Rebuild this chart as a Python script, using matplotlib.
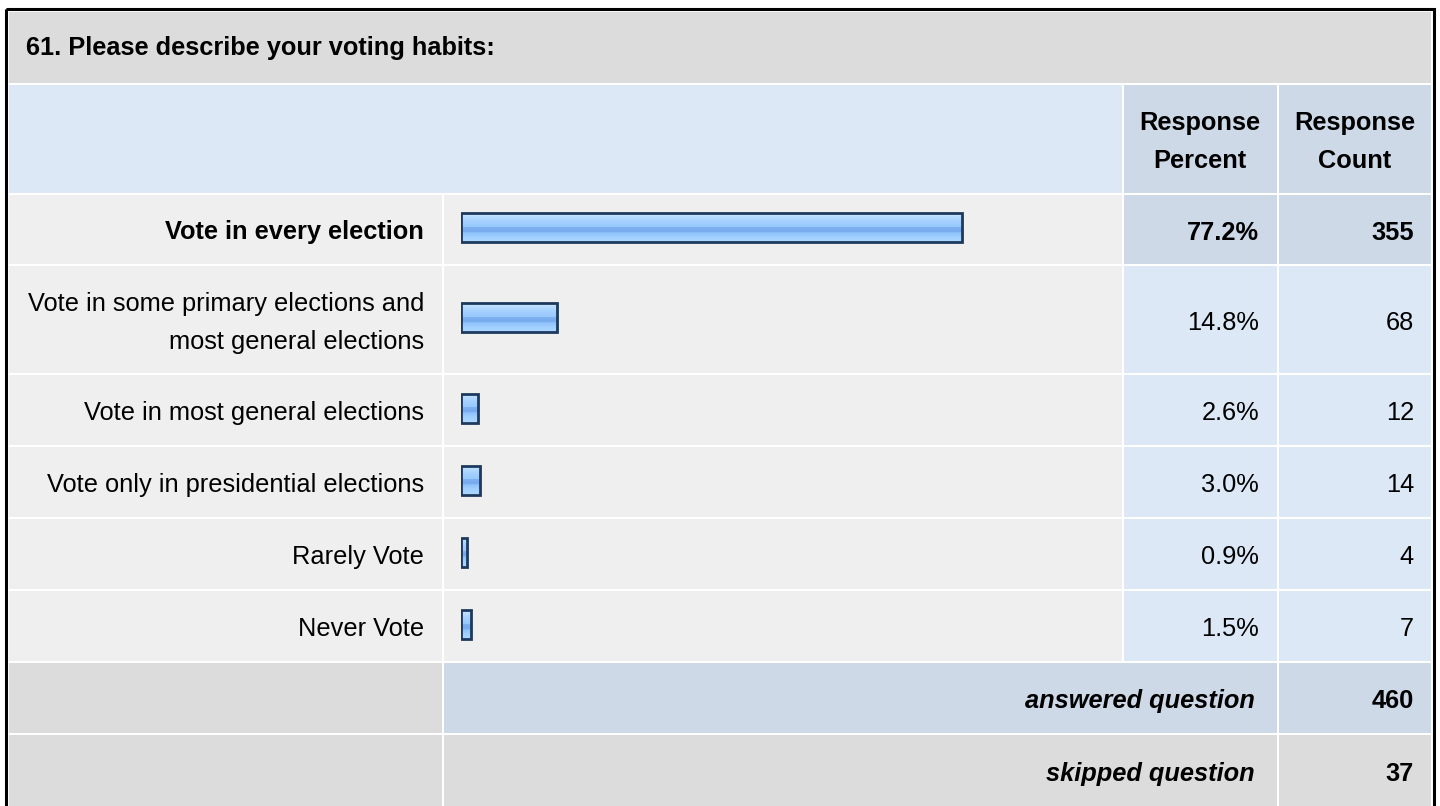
import numpy as np
import matplotlib.pyplot as plt
from matplotlib.patches import Rectangle
from matplotlib.colors import to_rgb

title = "61. Please describe your voting habits:"
answers = [
    "Vote in every election",
    "Vote in some primary elections and\nmost general elections",
    "Vote in most general elections",
    "Vote only in presidential elections",
    "Rarely Vote",
    "Never Vote",
]
percents = [77.2, 14.8, 2.6, 3.0, 0.9, 1.5]
counts = [355, 68, 12, 14, 4, 7]
answered = 460
skipped = 37

# page layout in pixels
W, H = 1440, 806
row_edges = [10.5, 84, 193.5, 264.5, 373.5, 445.5, 517.5, 589.5, 662, 733.5, 808]
col_edges = [8, 442.5, 1122.5, 1277.5, 1431.5]
gap = 2.0
FS = 18.3
FONT = ['Liberation Sans', 'DejaVu Sans']

TITLE_BG = '#dcdcdc'
HEAD_BG = '#dce8f6'
HEAD_COL = '#cdd9e7'
ROW_BG = '#efefef'
VAL_BG = '#dde8f6'

fig = plt.figure(figsize=(14.4, 8.06), dpi=100)
ax = fig.add_axes([0, 0, 1, 1])
ax.set_xlim(0, W)
ax.set_ylim(H, 0)
ax.axis('off')


def cell(c0, c1, r, color):
    x0 = col_edges[c0] + gap / 2
    x1 = col_edges[c1] - gap / 2
    y0 = row_edges[r] + gap / 2
    y1 = row_edges[r + 1] - gap / 2
    ax.add_patch(Rectangle((x0, y0), x1 - x0, y1 - y0, facecolor=color,
                           edgecolor='none', zorder=1))


def put(x, r, s, ha='right', weight='normal', style='normal'):
    yc = (row_edges[r] + row_edges[r + 1]) / 2
    lines = s.split('\n')
    n = len(lines)
    for i, line in enumerate(lines):
        y = yc + 10.5 + (i - (n - 1) / 2) * 38
        ax.text(x, y, line, ha=ha, va='baseline', fontsize=FS,
                fontweight=weight, fontstyle=style, family=FONT,
                color='#000000', zorder=5)


# title row
cell(0, 4, 0, TITLE_BG)
ax.text(26, 55, title, ha='left', va='baseline', fontsize=FS,
        fontweight='bold', family=FONT, color='#000000', zorder=5)

# header row
cell(0, 2, 1, HEAD_BG)
cell(2, 3, 1, HEAD_COL)
cell(3, 4, 1, HEAD_COL)
pct_x = (col_edges[2] + col_edges[3]) / 2
cnt_x = (col_edges[3] + col_edges[4]) / 2
put(pct_x, 1, "Response\nPercent", ha='center', weight='bold')
put(cnt_x, 1, "Response\nCount", ha='center', weight='bold')

# answer rows
top = int(np.argmax(percents))
for i, (lab, p, c) in enumerate(zip(answers, percents, counts)):
    r = 2 + i
    cell(0, 1, r, ROW_BG)
    cell(1, 2, r, ROW_BG)
    bg = HEAD_COL if i == top else VAL_BG
    cell(2, 3, r, bg)
    cell(3, 4, r, bg)
    w = 'bold' if i == top else 'normal'
    put(424, r, lab, weight=w)
    put(1259, r, f"{p:.1f}%", weight=w)
    put(1414, r, str(c), weight=w)

# footer rows
cell(0, 1, 8, TITLE_BG)
cell(1, 3, 8, HEAD_COL)
cell(3, 4, 8, HEAD_COL)
put(1255, 8, "answered question", weight='bold', style='italic')
put(1414, 8, str(answered), weight='bold')
cell(0, 1, 9, TITLE_BG)
cell(1, 3, 9, TITLE_BG)
cell(3, 4, 9, TITLE_BG)
put(1255, 9, "skipped question", weight='bold', style='italic')
put(1414, 9, str(skipped), weight='bold')

# outer frame
ax.add_patch(Rectangle((5.5, 8.5), 1428, 900, fill=False, lw=2.2,
                       edgecolor='#000000', zorder=6))

# bars: x axis in percent
bar_x0 = 461.0
px_per_pct = 6.49
ax_bar = fig.add_axes([bar_x0 / W, 0, 100 * px_per_pct / W, 1])
ax_bar.set_xlim(0, 100)
ax_bar.set_ylim(H, 0)
ax_bar.axis('off')
ax_bar.patch.set_alpha(0)

stops = [0.0, 0.1, 0.25, 0.45, 0.5, 0.65, 0.7, 0.85, 1.0]
stop_cols = ['#d4eaff', '#b9ddff', '#a6d2ff', '#98c8fc', '#7fb3f2',
             '#76aaee', '#8ec2fb', '#a3d1ff', '#a9d5ff']
t = np.linspace(0, 1, 30)
rgb = np.array([to_rgb(c) for c in stop_cols])
grad = np.stack([np.interp(t, stops, rgb[:, k]) for k in range(3)], axis=1)
grad = grad[:, None, :]

centers = [(row_edges[2 + i] + row_edges[3 + i]) / 2 - 1.5 for i in range(len(percents))]
bar_h = 29
bars = ax_bar.barh(centers, percents, height=bar_h, left=0, facecolor='none',
                   edgecolor='#1d3a5e', linewidth=2.0, zorder=3)
for b, yc, p in zip(bars, centers, percents):
    im = ax_bar.imshow(grad, extent=(0, p, yc + bar_h / 2, yc - bar_h / 2),
                       origin='upper', aspect='auto', interpolation='nearest',
                       zorder=2)
    im.set_clip_path(b)
ax_bar.set_xlim(0, 100)
ax_bar.set_ylim(H, 0)

fig.savefig('out.png', dpi=100, facecolor='white')
